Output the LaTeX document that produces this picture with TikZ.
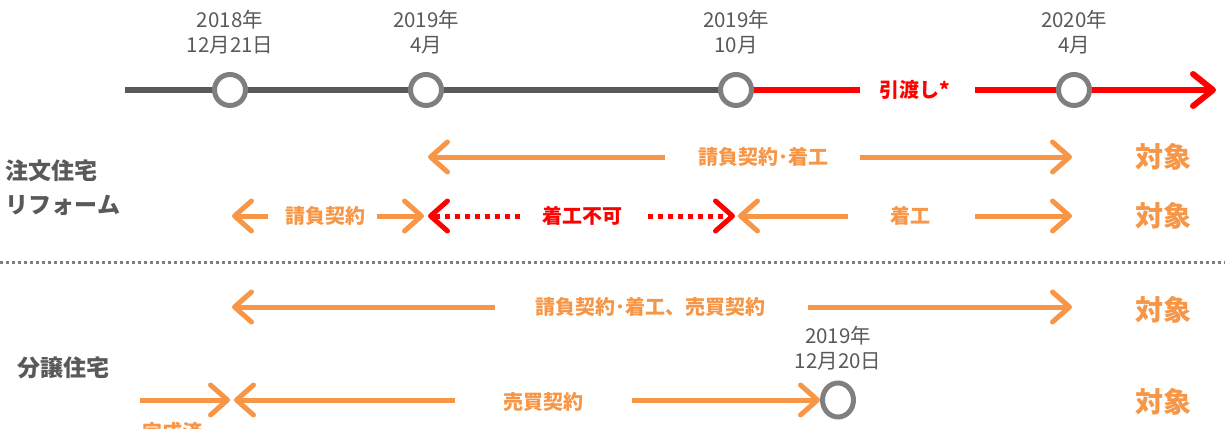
\documentclass[tikz,border=0pt]{standalone}
\usepackage{fontspec}
\newfontfamily\jp{Noto Sans CJK JP}
\usetikzlibrary{arrows.meta,shapes.geometric}
\definecolor{org}{HTML}{F79646}
\definecolor{rd}{HTML}{FF0000}
\definecolor{dg}{HTML}{595959}
\definecolor{cg}{HTML}{7F7F7F}
\pgfdeclarelayer{bg}
\pgfsetlayers{bg,main}
\begin{document}
\begin{tikzpicture}[x=1pt,y=-1pt,
  tipo/.style={-{Straight Barb[length=17pt,width=30pt,line cap=round,line join=round]}},
  tl/.style={line width=6pt,draw=dg},
  rl/.style={line width=6pt,draw=rd},
  oa/.style={line width=5pt,draw=org},
  rdot/.style={line width=5pt,draw=rd,dash pattern=on 5pt off 5pt},
  dot/.style={circle,draw=cg,fill=white,line width=5pt,minimum size=31pt,inner sep=0pt},
  datel/.style={font=\jp\fontsize{20.5}{25}\selectfont,text=dg,align=center,inner sep=0pt},
  olab/.style={font=\jp\bfseries\fontsize{20}{24}\selectfont,text=org,inner sep=0pt},
  rlab/.style={font=\jp\bfseries\fontsize{20}{24}\selectfont,text=rd,inner sep=0pt},
  tgt/.style={font=\jp\bfseries\fontsize{28}{32}\selectfont,text=org,inner sep=0pt},
  cat/.style={font=\jp\bfseries\fontsize{23}{34}\selectfont,text=dg,inner sep=0pt,align=left}]
\useasboundingbox (0,0) rectangle (1225,428);
\clip (0,0) rectangle (1225,428);

% timeline
\node[dot] (c1) at (230,90) {};
\node[dot] (c2) at (426,90) {};
\node[dot] (c3) at (736,90) {};
\node[dot] (c4) at (1074,90) {};
\coordinate (t0) at (125,90);
\coordinate (r1) at (860,90);
\coordinate (r2) at (975,90);
\coordinate (rend) at (1216,90);
\node[rlab] (hand) at (915,90) {引渡し*};
\begin{pgfonlayer}{bg}
\draw[tl] (t0) -- (c1.center) -- (c2.center) -- (c3.center);
\draw[rl] (c3.center) -- (r1);
\draw[rl,-{Straight Barb[length=20pt,width=32pt,line cap=round,line join=round]}] (r2) -- (rend);
\end{pgfonlayer}

\node[datel] (d1) at (230,32) {2018年\\12月21日};
\node[datel] (d2) at (426,32) {2019年\\4月};
\node[datel] (d3) at (736,32) {2019年\\10月};
\node[datel] (d4) at (1074,32) {2020年\\4月};

% category labels
\node[cat] (k1) at (63,188) {注文住宅\\リフォーム};
\node[cat] (k2) at (63,368) {分譲住宅};

% row 1
\node[olab] (l1) at (763,157) {請負契約･着工};
\coordinate (a1l) at (665,157);
\coordinate (a1lt) at (428,157);
\coordinate (a1r) at (860,157);
\coordinate (a1rt) at (1072,157);
\draw[oa,tipo] (a1l) -- (a1lt);
\draw[oa,tipo] (a1r) -- (a1rt);
\node[tgt] (o1) at (1163,157) {対象};

% row 2
\node[olab] (l2) at (325,216) {請負契約};
\coordinate (a2l) at (268,216);
\coordinate (a2lt) at (232,216);
\coordinate (a2r) at (377,216);
\coordinate (a2rt) at (424,216);
\draw[oa,tipo] (a2l) -- (a2lt);
\draw[oa,tipo] (a2r) -- (a2rt);
\node[rlab] (l3) at (582,216) {着工不可};
\coordinate (b1) at (520,216);
\coordinate (b1t) at (428,216);
\coordinate (b2) at (648,216);
\coordinate (b2t) at (735,216);
\draw[rdot,tipo,draw=rd] (b1) -- (b1t);
\draw[rdot,tipo,draw=rd] (b2) -- (b2t);
\node[olab] (l4) at (910,216) {着工};
\coordinate (a3l) at (848,216);
\coordinate (a3lt) at (738,216);
\coordinate (a3r) at (975,216);
\coordinate (a3rt) at (1072,216);
\draw[oa,tipo] (a3l) -- (a3lt);
\draw[oa,tipo] (a3r) -- (a3rt);
\node[tgt] (o2) at (1163,216) {対象};

% separator
\coordinate (s0) at (0,262);
\coordinate (s1) at (1225,262);
\draw[draw=cg,line width=3pt,dash pattern=on 3pt off 3pt] (s0) -- (s1);

% row 3
\node[olab] (l5) at (650,307) {請負契約･着工、売買契約};
\coordinate (a4l) at (495,307);
\coordinate (a4lt) at (232,307);
\coordinate (a4r) at (808,307);
\coordinate (a4rt) at (1072,307);
\draw[oa,tipo] (a4l) -- (a4lt);
\draw[oa,tipo] (a4r) -- (a4rt);
\node[tgt] (o3) at (1163,310) {対象};

% row 4
\node[datel] (d5) at (838,348) {2019年\\12月20日};
\node[ellipse,draw=cg,fill=white,line width=5pt,minimum width=31pt,minimum height=34pt,inner sep=0pt] (c5) at (838,400) {};
\node[olab] (l6) at (543,402) {売買契約};
\coordinate (a5l) at (140,400);
\coordinate (a5lt) at (230,400);
\coordinate (a5r) at (455,400);
\coordinate (a5rt) at (234,400);
\coordinate (a6l) at (632,400);
\draw[oa,tipo] (a5l) -- (a5lt);
\draw[oa,tipo] (a5r) -- (a5rt);
\draw[oa,tipo] (a6l) -- (c5.west);
\node[olab] (l7) at (172,432) {完成済};
\node[tgt] (o4) at (1163,402) {対象};
\end{tikzpicture}
\end{document}
